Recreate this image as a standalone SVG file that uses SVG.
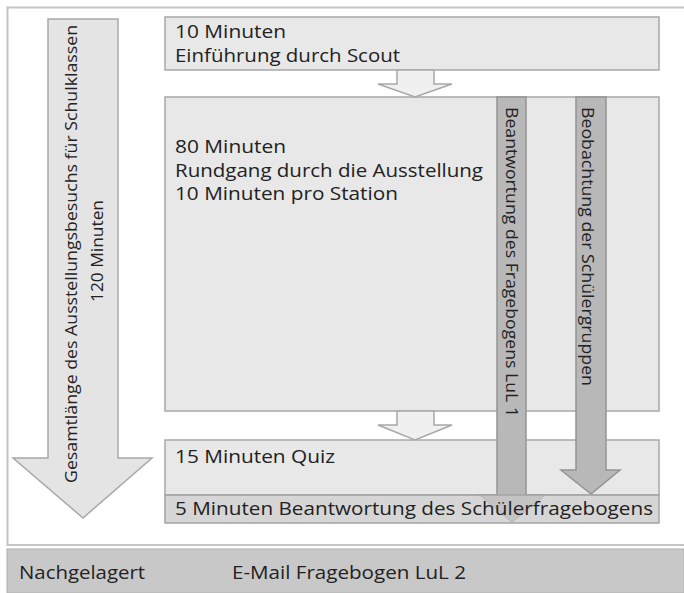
<svg xmlns="http://www.w3.org/2000/svg" width="684" height="593" viewBox="0 0 684 593">
<style>
  text { font-family: "Open Sans", "Liberation Sans", sans-serif; fill: #222222; font-weight: 500; }
  .h { font-size: 18px; }
  .v { font-size: 17px; }
  .box { fill: #e8e8e8; stroke: #a8a8a8; stroke-width: 1.5; }
  .dark { fill: #c8c8c8; stroke: #a4a4a4; stroke-width: 1.5; }
  .big { fill: #e4e4e4; stroke: #a8a8a8; stroke-width: 1.5; }
  .small { fill: #f0f0f0; stroke: #a8a8a8; stroke-width: 1.5; }
  .varr { fill: #b8b8b8; stroke: #949494; stroke-width: 1.5; }
</style>
<rect width="684" height="593" fill="#ffffff"/>
<g id="frame">
  <path d="M684 7.5 H7.5 V545 H684" fill="none" stroke="#c4c4c4" stroke-width="2"/>
</g>
<g id="gesamt">
  <path class="big" d="M48 19 H118 V458 H152 L83 518 L13 458 H48 Z"/>
  <text class="v" transform="translate(77 254) rotate(-90)" text-anchor="middle" textLength="458" lengthAdjust="spacingAndGlyphs">Gesamtlänge des Ausstellungsbesuchs für Schulklassen</text>
  <text class="v" transform="translate(103 251) rotate(-90)" text-anchor="middle" textLength="102" lengthAdjust="spacingAndGlyphs">120 Minuten</text>
</g>
<g id="einfuehrung">
  <rect class="box" x="165" y="17" width="494" height="53"/>
  <text class="h" x="175" y="38" textLength="111" lengthAdjust="spacingAndGlyphs">10 Minuten</text>
  <text class="h" x="175" y="62" textLength="225" lengthAdjust="spacingAndGlyphs">Einführung durch Scout</text>
</g>
<g id="rundgang">
  <rect class="box" x="165" y="97" width="494" height="314"/>
  <text class="h" x="175" y="153" textLength="111" lengthAdjust="spacingAndGlyphs">80 Minuten</text>
  <text class="h" x="175" y="177" textLength="308" lengthAdjust="spacingAndGlyphs">Rundgang durch die Ausstellung</text>
  <text class="h" x="175" y="200" textLength="223" lengthAdjust="spacingAndGlyphs">10 Minuten pro Station</text>
</g>
<g id="quiz">
  <rect class="box" x="165" y="440" width="494" height="55"/>
  <text class="h" x="175" y="463" textLength="160" lengthAdjust="spacingAndGlyphs">15 Minuten Quiz</text>
</g>
<g id="connectors">
  <path class="small" d="M397 70 H434 V84 H452 L415 97 L378 84 H397 Z"/>
  <path class="small" d="M397 411 H434 V425 H452 L415 440 L378 425 H397 Z"/>
</g>
<g id="lul1">
  <path class="varr" d="M497 97 H526 V495 H545 L512 522 L480 495 H497 Z"/>
</g>
<g id="schuelergruppen">
  <path class="varr" d="M576 97 H606 V470 H620 L591 494 L561 470 H576 Z"/>
  <text class="v" transform="translate(582 107) rotate(90)" textLength="279" lengthAdjust="spacingAndGlyphs">Beobachtung der Schülergruppen</text>
</g>
<g id="schuelerfragebogen">
  <rect class="dark" x="165" y="495" width="494" height="28" fill-opacity="0.75"/>
  <text class="h" x="175" y="515" textLength="478" lengthAdjust="spacingAndGlyphs">5 Minuten Beantwortung des Schülerfragebogens</text>
</g>
<g id="lul1-label">
  <text class="v" transform="translate(506 107) rotate(90)" textLength="310" lengthAdjust="spacingAndGlyphs">Beantwortung des Fragebogens LuL 1</text>
</g>
<g id="nachgelagert">
  <rect x="7" y="549" width="677" height="44" fill="#c8c8c8" stroke="#b0b0b0" stroke-width="1"/>
  <text class="h" x="19" y="579" textLength="126" lengthAdjust="spacingAndGlyphs">Nachgelagert</text>
  <text class="h" x="232" y="579" textLength="234" lengthAdjust="spacingAndGlyphs">E-Mail Fragebogen LuL 2</text>
</g>
</svg>
